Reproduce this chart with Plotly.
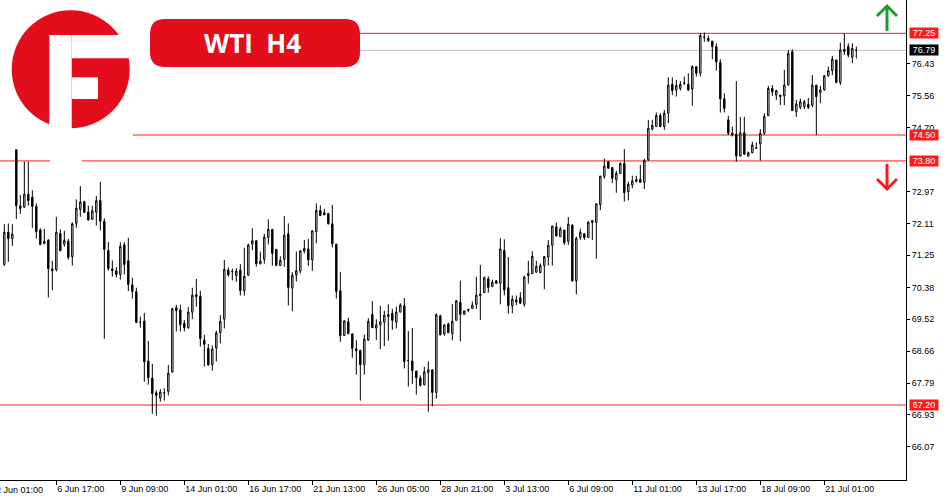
import plotly.graph_objects as go

# WTI H4 candles, oldest bar first
opens = [71.00, 71.87, 71.70, 74.10, 72.58, 72.55, 72.90, 72.82, 72.57, 71.93,
         71.56, 71.66, 70.88, 70.86, 71.84, 71.55, 71.63, 71.21, 72.11, 72.49,
         72.70, 72.42, 72.22, 72.41, 72.73, 72.17, 71.38, 70.88, 70.83, 70.73,
         71.53, 71.10, 70.45, 70.26, 69.44, 69.47, 68.39, 67.93, 67.53, 67.39,
         67.52, 67.57, 68.09, 69.83, 69.77, 69.41, 69.29, 69.71, 70.18, 70.14,
         68.95, 68.73, 68.29, 68.74, 69.16, 69.52, 70.85, 70.80, 70.70, 70.85,
         70.29, 70.71, 71.55, 71.64, 71.02, 71.14, 71.73, 71.95, 71.41, 70.97,
         71.14, 71.83, 70.36, 70.72, 70.82, 71.36, 71.42, 71.12, 71.89, 72.46,
         72.40, 72.38, 72.10, 71.55, 70.29, 69.08, 69.45, 69.12, 68.72, 68.68,
         68.29, 68.95, 69.65, 69.28, 69.37, 69.44, 69.59, 69.68, 69.44, 69.71,
         69.88, 68.41, 68.39, 68.12, 67.93, 67.75, 68.08, 68.15, 67.54, 69.61,
         69.12, 69.39, 69.13, 69.49, 69.98, 69.65, 69.79, 69.81, 69.92, 70.20,
         70.24, 70.61, 70.40, 70.56, 70.49, 71.38, 70.37, 69.88, 70.04, 70.10,
         69.92, 70.70, 70.75, 70.79, 70.78, 70.97, 71.20, 71.52, 72.02, 71.75,
         71.93, 71.63, 72.07, 70.56, 71.73, 71.83, 71.73, 72.13, 72.14, 72.62,
         73.38, 73.78, 73.62, 73.29, 73.46, 73.73, 72.97, 73.15, 73.24, 73.30,
         73.22, 73.83, 74.66, 74.73, 75.03, 74.73, 75.09, 75.87, 75.72, 75.76,
         75.90, 75.87, 75.74, 76.35, 76.17, 77.15, 77.11, 77.04, 76.89, 76.46,
         75.48, 74.91, 74.55, 74.52, 73.93, 74.56, 73.93, 74.02, 74.14, 74.26,
         74.55, 75.02, 75.76, 75.58, 75.58, 75.56, 75.85, 76.75, 75.13, 75.25,
         75.27, 75.33, 75.31, 75.85, 75.65, 75.72, 76.10, 76.24, 76.53, 75.92,
         76.76, 76.89, 76.60, 76.80]
highs = [72.09, 72.11, 72.09, 74.12, 72.88, 73.78, 73.78, 73.01, 72.65, 71.98,
         71.96, 71.68, 71.10, 72.29, 71.95, 71.91, 71.69, 72.14, 72.76, 73.12,
         72.72, 72.59, 72.59, 72.85, 73.23, 72.25, 71.61, 71.11, 70.93, 71.60,
         71.60, 71.72, 70.64, 70.37, 69.59, 69.69, 68.93, 68.31, 67.60, 67.63,
         67.65, 68.28, 69.83, 69.91, 69.91, 69.50, 69.85, 70.37, 70.61, 70.29,
         69.10, 68.85, 68.81, 69.21, 69.63, 71.12, 70.92, 70.89, 70.90, 71.01,
         71.45, 71.56, 71.98, 71.66, 71.35, 71.83, 72.22, 71.95, 71.41, 71.22,
         72.31, 72.11, 70.79, 71.35, 71.39, 71.66, 71.69, 71.91, 72.65, 72.60,
         72.50, 72.38, 72.61, 71.55, 70.80, 69.50, 69.56, 69.14, 68.95, 68.68,
         69.10, 69.55, 70.01, 69.52, 69.88, 69.75, 69.92, 69.80, 69.86, 69.95,
         70.09, 69.20, 69.28, 68.12, 68.00, 68.23, 68.38, 68.17, 69.68, 69.64,
         69.39, 69.43, 69.93, 70.04, 70.56, 69.76, 69.79, 70.00, 70.67, 70.99,
         70.68, 70.68, 70.59, 70.56, 71.71, 71.68, 71.20, 70.16, 70.16, 70.25,
         70.70, 71.10, 71.36, 71.10, 71.03, 71.23, 71.66, 72.04, 72.13, 72.02,
         71.93, 72.28, 72.07, 71.75, 71.97, 71.84, 72.17, 72.19, 72.64, 73.39,
         73.86, 73.78, 73.62, 73.53, 73.76, 74.12, 73.24, 73.40, 73.40, 73.69,
         73.86, 74.91, 74.91, 75.11, 75.09, 75.18, 76.06, 76.06, 75.99, 75.96,
         76.08, 76.17, 76.39, 76.35, 77.25, 77.27, 77.19, 77.04, 76.98, 76.55,
         75.63, 75.02, 74.73, 75.96, 74.99, 74.99, 74.05, 74.32, 74.30, 74.66,
         75.09, 75.83, 75.85, 75.72, 75.58, 76.26, 76.80, 76.82, 75.45, 75.49,
         75.45, 75.50, 76.12, 75.85, 75.83, 76.12, 76.35, 76.64, 76.53, 77.00,
         77.25, 76.98, 76.98, 76.89]
lows = [70.96, 71.07, 71.50, 72.23, 72.37, 72.53, 72.59, 71.99, 71.70, 71.52,
        71.56, 70.11, 70.30, 70.81, 71.37, 71.48, 71.13, 70.97, 71.99, 72.29,
        72.40, 72.20, 72.20, 72.05, 71.92, 68.99, 70.83, 70.67, 70.65, 70.59,
        70.73, 70.28, 70.08, 69.43, 69.29, 67.83, 67.75, 66.96, 66.91, 67.29,
        67.32, 67.46, 68.09, 69.19, 69.19, 69.19, 69.26, 69.52, 69.86, 68.78,
        68.24, 68.27, 68.13, 68.38, 68.87, 69.27, 70.67, 70.57, 70.53, 70.16,
        70.16, 70.69, 71.39, 70.94, 71.00, 71.02, 71.54, 70.97, 70.97, 70.97,
        70.94, 69.89, 69.73, 70.54, 70.76, 71.30, 70.96, 70.83, 71.57, 72.32,
        72.34, 72.08, 71.46, 70.08, 68.91, 69.08, 69.11, 68.48, 68.02, 67.32,
        68.02, 68.95, 69.29, 68.96, 68.71, 68.79, 68.94, 69.23, 69.27, 69.71,
        68.19, 67.70, 67.77, 67.48, 67.70, 67.73, 67.02, 67.16, 67.37, 69.08,
        69.07, 69.14, 68.95, 69.49, 68.92, 69.65, 69.71, 69.81, 69.80, 69.50,
        70.24, 70.24, 70.40, 70.49, 69.92, 70.16, 69.67, 69.68, 69.90, 69.95,
        69.86, 70.48, 70.75, 70.78, 70.76, 70.33, 70.97, 70.97, 71.77, 71.75,
        71.53, 71.53, 70.54, 70.19, 71.66, 71.66, 71.73, 71.66, 71.16, 72.47,
        73.32, 73.60, 73.20, 72.94, 73.46, 72.70, 72.73, 73.06, 73.22, 73.22,
        73.04, 73.80, 74.62, 74.73, 74.71, 74.64, 74.82, 75.58, 75.54, 75.70,
        75.85, 75.69, 75.29, 76.08, 76.08, 77.02, 77.02, 76.55, 76.24, 75.11,
        75.11, 74.50, 74.46, 73.78, 73.92, 73.98, 73.92, 74.01, 74.14, 73.81,
        74.50, 75.02, 75.56, 75.45, 75.31, 75.31, 75.85, 75.16, 74.99, 75.20,
        75.20, 75.20, 75.25, 74.50, 75.36, 75.70, 76.08, 76.12, 75.90, 75.85,
        76.66, 76.60, 76.44, 76.57]
closes = [71.87, 71.70, 71.82, 72.59, 72.51, 72.90, 72.73, 72.57, 71.89, 71.54,
          71.63, 70.89, 70.83, 71.87, 71.37, 71.65, 71.19, 72.10, 72.52, 72.69,
          72.41, 72.20, 72.45, 72.72, 72.17, 71.41, 70.89, 70.83, 70.73, 71.49,
          71.00, 70.46, 70.27, 69.43, 69.44, 68.37, 67.94, 67.51, 67.46, 67.55,
          67.53, 68.06, 69.80, 69.75, 69.37, 69.29, 69.71, 70.17, 70.13, 69.00,
          68.84, 68.28, 68.71, 69.15, 69.46, 70.87, 70.72, 70.81, 70.82, 70.29,
          70.68, 71.53, 71.64, 71.02, 71.09, 71.74, 71.95, 71.30, 70.97, 71.11,
          71.79, 70.38, 70.71, 70.83, 71.37, 71.44, 71.12, 71.91, 72.46, 72.32,
          72.34, 72.10, 71.56, 70.27, 69.08, 69.47, 69.13, 68.73, 68.67, 68.29,
          68.98, 69.46, 69.29, 69.37, 69.45, 69.63, 69.65, 69.49, 69.71, 69.90,
          68.37, 68.40, 68.13, 67.94, 67.73, 68.10, 68.15, 67.54, 69.64, 69.10,
          69.36, 69.16, 69.46, 70.02, 69.65, 69.74, 69.76, 69.90, 70.17, 70.16,
          70.64, 70.38, 70.52, 70.49, 71.42, 70.31, 69.89, 70.06, 69.99, 69.95,
          70.66, 70.76, 71.22, 70.95, 70.97, 71.21, 71.52, 72.04, 71.77, 71.96,
          71.59, 72.09, 70.55, 71.71, 71.87, 71.73, 72.14, 72.19, 72.64, 73.39,
          73.66, 73.60, 73.33, 73.46, 73.73, 72.94, 73.17, 73.26, 73.30, 73.22,
          73.81, 74.68, 74.76, 75.03, 74.73, 75.09, 75.85, 75.70, 75.84, 75.87,
          75.91, 75.72, 76.35, 76.17, 77.19, 77.14, 77.05, 76.89, 76.48, 75.48,
          75.22, 74.55, 74.50, 73.93, 74.56, 73.98, 74.02, 74.23, 74.16, 74.55,
          75.00, 75.76, 75.67, 75.70, 75.54, 75.85, 76.71, 75.16, 75.34, 75.40,
          75.40, 75.25, 75.85, 75.54, 75.72, 76.10, 76.24, 76.55, 75.92, 76.80,
          76.82, 76.66, 76.84, 76.79]

x_tick_bars = [13, 29, 45, 61, 77, 93, 109, 125, 141, 157, 173, 189, 205]
x_tick_text = ["6 Jun 17:00", "9 Jun 09:00", "14 Jun 01:00", "16 Jun 17:00",
               "21 Jun 13:00", "26 Jun 05:00", "28 Jun 21:00", "3 Jul 13:00",
               "6 Jul 09:00", "11 Jul 01:00", "13 Jul 17:00", "18 Jul 09:00",
               "21 Jul 01:00"]
first_label = "2 Jun 01:00"
y_ticks = [76.43, 75.56, 74.70, 72.97, 72.11, 71.25, 70.38, 69.52, 68.66,
           67.79, 66.93, 66.07]
red_levels = [77.25, 74.50, 73.80, 67.20]
last_price = 76.79

RED = "#e30d1b"      # logo / title box
LINE_RED = "#ff1a1a"  # level lines and their price tags
GREEN = "#1e9b35"
W, H = 906, 480  # plot area in pixels


def X(px):
    return px / W


def Y(py):
    return 1 - py / H


def rounded_rect(x0, y0, x1, y1, r):
    return (f"M {X(x0 + r)},{Y(y0)} L {X(x1 - r)},{Y(y0)} Q {X(x1)},{Y(y0)} {X(x1)},{Y(y0 + r)} "
            f"L {X(x1)},{Y(y1 - r)} Q {X(x1)},{Y(y1)} {X(x1 - r)},{Y(y1)} "
            f"L {X(x0 + r)},{Y(y1)} Q {X(x0)},{Y(y1)} {X(x0)},{Y(y1 - r)} "
            f"L {X(x0)},{Y(y0 + r)} Q {X(x0)},{Y(y0)} {X(x0 + r)},{Y(y0)} Z")


def rect(x0, y0, x1, y1, color):
    return dict(type="rect", xref="paper", yref="paper", x0=X(x0), x1=X(x1),
                y0=Y(y1), y1=Y(y0), fillcolor=color, line_width=0, layer="above")


def polyline(pts, color, width):
    d = "M " + " L ".join(f"{X(a)},{Y(b)}" for a, b in pts)
    return dict(type="path", xref="paper", yref="paper", path=d,
                line=dict(color=color, width=width), layer="above")


bars = list(range(len(opens)))

fig = go.Figure()
fig.add_trace(go.Candlestick(
    x=bars, open=opens, high=highs, low=lows, close=closes,
    increasing=dict(fillcolor="white", line=dict(color="black", width=1)),
    decreasing=dict(fillcolor="black", line=dict(color="black", width=1)),
    whiskerwidth=0, showlegend=False, hoverinfo="skip"))

shapes = []
# horizontal levels
for lv in red_levels:
    shapes.append(dict(type="line", xref="paper", yref="y", x0=0, x1=1, y0=lv, y1=lv,
                       line=dict(color=LINE_RED, width=1), layer="below"))
shapes.append(dict(type="line", xref="paper", yref="y", x0=0, x1=1, y0=last_price, y1=last_price,
                   line=dict(color="#c0c0c0", width=1), layer="below"))

# white areas behind logo and title
shapes.append(rect(0, 0, 360, 70, "white"))
shapes.append(rect(0, 0, 133, 141, "white"))
shapes.append(rect(50, 157, 82, 165, "white"))

# logo
cx, cy, r = 70.7, 69.3, 59
shapes.append(dict(type="circle", xref="paper", yref="paper", x0=X(cx - r), x1=X(cx + r),
                   y0=Y(cy + r), y1=Y(cy - r), fillcolor=RED, line_width=0, layer="above"))
shapes.append(rect(49.3, 35, 71.7, 131, "white"))
shapes.append(rect(71.7, 35, 132, 58.3, "white"))
shapes.append(rect(71.7, 77.3, 98, 99, "white"))

# title box
shapes.append(dict(type="path", xref="paper", yref="paper", path=rounded_rect(150, 19, 360, 67, 15),
                   fillcolor=RED, line_width=0, layer="above"))

# arrows
shapes.append(polyline([(887, 31), (887, 7)], GREEN, 3))
shapes.append(polyline([(877, 16), (887, 6), (897, 16)], GREEN, 3))
shapes.append(polyline([(887, 164), (887, 188)], LINE_RED, 3))
shapes.append(polyline([(877, 179), (887, 189), (897, 179)], LINE_RED, 3))

annotations = [
    dict(text="WTI\u00a0 H4", xref="paper", yref="paper", x=X(253), y=Y(43),
         xanchor="center", yanchor="middle", showarrow=False,
         font=dict(family="Open Sans", size=26, color="white", weight="bold")),
    dict(text=first_label, xref="paper", yref="paper", x=X(-6), y=Y(490), xanchor="left",
         yanchor="middle", showarrow=False, font=dict(family="Liberation Sans", size=9, color="black")),
]
for lv in red_levels:
    annotations.append(dict(text=f"{lv:.2f}", xref="paper", yref="y", x=1, y=lv, xanchor="left",
                            xshift=3, width=28, height=10, bgcolor=LINE_RED, borderpad=0,
                            showarrow=False, font=dict(family="Liberation Sans", size=9, color="white")))
annotations.append(dict(text=f"{last_price:.2f}", xref="paper", yref="y", x=1, y=last_price,
                        xanchor="left", xshift=3, width=28, height=10, bgcolor="black", borderpad=0,
                        showarrow=False, font=dict(family="Liberation Sans", size=9, color="white")))

fig.update_layout(
    width=950, height=500,
    margin=dict(l=0, r=44, t=0, b=20),
    paper_bgcolor="white", plot_bgcolor="white",
    boxgap=0.5,
    shapes=shapes, annotations=annotations,
    xaxis=dict(range=[-1.08, 225.42], rangeslider=dict(visible=False), showgrid=False,
               zeroline=False, showline=True, linecolor="black", linewidth=1,
               tickmode="array", tickvals=x_tick_bars, ticktext=x_tick_text,
               ticks="outside", ticklen=4, tickcolor="black", ticklabelposition="outside right",
               tickfont=dict(family="Liberation Sans", size=9, color="black")),
    yaxis=dict(range=[65.172, 78.151], side="right", showgrid=False, zeroline=False,
               showline=True, linecolor="black", linewidth=1,
               tickmode="array", tickvals=y_ticks, ticktext=[f"{v:.2f}" for v in y_ticks],
               ticks="outside", ticklen=3, tickcolor="black",
               tickfont=dict(family="Liberation Sans", size=9, color="black")),
)

# the page's default body margin would push the 950x500 figure off the window
fig.write_html("out.html", config={"displayModeBar": False},
               post_script="document.body.style.margin='0';")
